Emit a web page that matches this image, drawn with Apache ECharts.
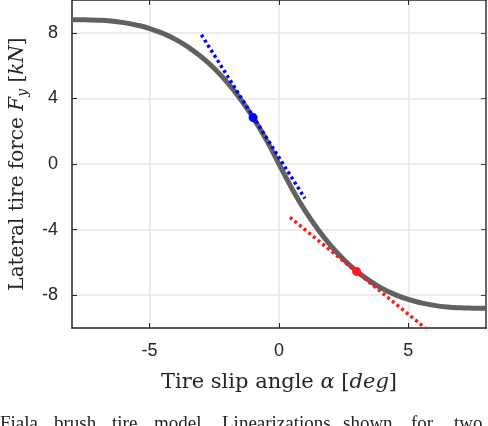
<!DOCTYPE html>
<html>
<head>
<meta charset="utf-8">
<script src="https://cdn.jsdelivr.net/npm/echarts@6/dist/echarts.min.js"></script>
<style>
  html, body { margin: 0; padding: 0; background: #fff; }
  #chart { width: 488px; height: 426px; }
</style>
</head>
<body>
<div id="chart"></div>
<script>
// slip angle (deg) and lateral force (kN)
const slipAngle = [-8, -7.5, -7, -6.5, -6, -5.5, -5, -4.5, -4, -3.5, -3, -2.5, -2, -1.5, -1, -0.5,
  0, 0.5, 1, 1.5, 2, 2.5, 3, 3.5, 4, 4.5, 5, 5.5, 6, 6.5, 7, 7.5, 8];
const lateralForce = [8.8, 8.79, 8.77, 8.72, 8.62, 8.47, 8.26, 7.97, 7.6, 7.12, 6.53, 5.82, 4.97, 3.98, 2.83, 1.5,
  0, -1.5, -2.83, -3.98, -4.97, -5.82, -6.53, -7.12, -7.6, -7.97, -8.26, -8.47, -8.62, -8.72, -8.77, -8.79, -8.8];

// linearizations
const blueLine = [[-3.0, 7.88], [1.0, -2.1]];
const bluePoint = [[-1.0, 2.83]];
const redLine = [[0.42, -3.25], [5.65, -10]];
const redPoint = [[3.0, -6.56]];

const xTicks = [-5, 0, 5];
const yTicks = [-8, -4, 0, 4, 8];

// caption underneath (cut off by the frame)
const captionWords = ['Fiala', 'brush', 'tire', 'model.', 'Linearizations', 'shown', 'for', 'two'];
const captionX = [0, 54, 112, 154, 222, 343, 411, 454];

const curveData = slipAngle.map((a, i) => [a, lateralForce[i]]);

const chart = echarts.init(document.getElementById('chart'));

const serif = 'DejaVu Serif';
const sans = 'Liberation Sans';

chart.setOption({
  animation: false,
  grid: { left: 68, right: 2, top: -4, bottom: 98 },
  graphic: captionWords.map((w, i) => ({
    type: 'text',
    x: captionX[i],
    y: 415,
    style: {
      text: w,
      font: '19px "Liberation Serif"',
      fill: '#222'
    }
  })),
  xAxis: [{
    type: 'value',
    min: -8,
    max: 8,
    name: '{n|Tire slip angle }{i|α}{n| [}{i|deg}{n|]}',
    nameLocation: 'middle',
    nameGap: 44,
    nameTextStyle: {
      rich: {
        n: { fontFamily: serif, fontSize: 21, color: '#262626' },
        i: { fontFamily: serif, fontSize: 21, fontStyle: 'italic', color: '#262626' }
      }
    },
    axisLine: { show: true, onZero: false, lineStyle: { color: '#262626', width: 1.5 } },
    axisTick: { inside: true, length: 5, customValues: xTicks, lineStyle: { color: '#262626' } },
    axisLabel: { customValues: xTicks, fontFamily: sans, fontSize: 18, color: '#262626', margin: 14 },
    splitLine: { show: true, lineStyle: { color: '#e6e6e6', width: 1.5 } }
  }, {
    type: 'value',
    position: 'top',
    min: -8,
    max: 8,
    axisLine: { show: true, onZero: false, lineStyle: { color: '#262626', width: 1.5 } },
    axisTick: { inside: true, length: 5, customValues: xTicks, lineStyle: { color: '#262626' } },
    axisLabel: { show: false },
    splitLine: { show: false }
  }],
  yAxis: [{
    type: 'value',
    min: -10,
    max: 10,
    name: '{n|Lateral tire force }{i|F}{s|y}{n| [}{i|kN}{n|]}',
    nameLocation: 'middle',
    nameGap: 42,
    nameTextStyle: {
      rich: {
        n: { fontFamily: serif, fontSize: 20, color: '#262626' },
        i: { fontFamily: serif, fontSize: 20, fontStyle: 'italic', color: '#262626' },
        s: { fontFamily: serif, fontSize: 14, fontStyle: 'italic', color: '#262626', verticalAlign: 'bottom', padding: [10, 0, 0, 0] }
      }
    },
    axisLine: { show: true, onZero: false, lineStyle: { color: '#262626', width: 1.5 } },
    axisTick: { inside: true, length: 5, customValues: yTicks, lineStyle: { color: '#262626' } },
    axisLabel: { customValues: yTicks, fontFamily: sans, fontSize: 18, color: '#262626', margin: 14 },
    splitLine: { show: true, lineStyle: { color: '#e6e6e6', width: 1.5 } }
  }, {
    type: 'value',
    position: 'right',
    min: -10,
    max: 10,
    axisLine: { show: true, onZero: false, lineStyle: { color: '#666', width: 2 } },
    axisTick: { inside: true, length: 5, customValues: yTicks, lineStyle: { color: '#444' } },
    axisLabel: { show: false },
    splitLine: { show: false }
  }],
  series: [
    {
      type: 'line',
      data: curveData,
      smooth: true,
      showSymbol: false,
      lineStyle: { color: '#616161', width: 5 }
    },
    {
      type: 'line',
      data: blueLine,
      showSymbol: false,
      lineStyle: { color: '#0000ff', width: 3.5, type: [3, 3] }
    },
    {
      type: 'line',
      data: redLine,
      showSymbol: false,
      lineStyle: { color: '#ff1a1a', width: 3.5, type: [3, 3] }
    },
    {
      type: 'scatter',
      data: bluePoint,
      symbol: 'circle',
      symbolSize: 9,
      z: 5,
      itemStyle: { color: '#0000ff', opacity: 1 }
    },
    {
      type: 'scatter',
      data: redPoint,
      symbol: 'circle',
      symbolSize: 9,
      z: 5,
      itemStyle: { color: '#ff1a1a', opacity: 1 }
    }
  ]
});
</script>
</body>
</html>
